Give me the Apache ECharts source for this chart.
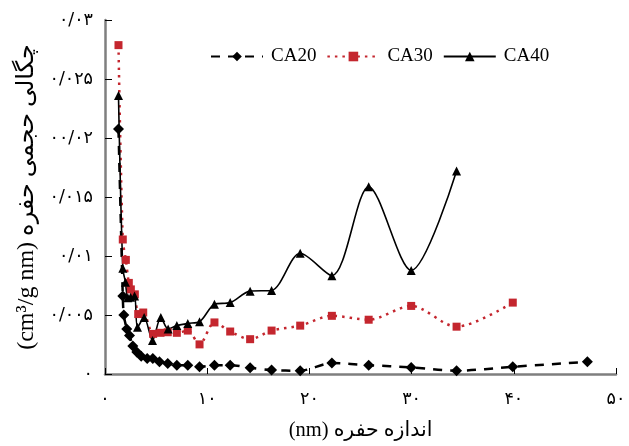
<!DOCTYPE html>
<html>
<head>
<meta charset="utf-8">
<script src="https://cdn.jsdelivr.net/npm/echarts@6/dist/echarts.min.js"></script>
<style>
html,body{margin:0;padding:0;background:#fff;}
#chart{width:629px;height:446px;}
</style>
</head>
<body>
<div id="chart"></div>
<script>
// ---- data (pore size nm, pore volume density cm3/g nm) ----
const ca20X = [1.32, 1.74, 1.84, 2.13, 2.40, 2.72, 3.11, 3.54, 4.13, 4.68, 5.33, 6.14, 7.03, 8.10, 9.25, 10.71, 12.25, 14.20, 16.30, 19.10, 22.20, 25.80, 29.96, 34.40, 39.90, 47.20];
const ca20Y = [0.02076, 0.00660, 0.00500, 0.00382, 0.00326, 0.00237, 0.00186, 0.00151, 0.00131, 0.00131, 0.00103, 0.00089, 0.00075, 0.00075, 0.00061, 0.00075, 0.00075, 0.00053, 0.00033, 0.00028, 0.00093, 0.00075, 0.00056, 0.00028, 0.00061, 0.00103];

const ca30X = [1.32, 1.74, 2.04, 2.33, 2.53, 2.92, 3.25, 3.74, 4.71, 5.43, 6.14, 7.03, 8.10, 9.25, 10.71, 12.25, 14.20, 16.30, 19.10, 22.20, 25.80, 29.96, 34.40, 39.90];
const ca30Y = [0.02787, 0.01140, 0.00967, 0.00772, 0.00717, 0.00675, 0.00508, 0.00521, 0.00340, 0.00349, 0.00354, 0.00349, 0.00368, 0.00251, 0.00437, 0.00360, 0.00295, 0.00368, 0.00410, 0.00493, 0.00460, 0.00577, 0.00401, 0.00605];

const ca40X = [1.32, 1.74, 2.00, 2.23, 2.50, 2.89, 3.18, 3.83, 4.65, 5.46, 6.18, 7.03, 8.10, 9.25, 10.71, 12.25, 14.20, 16.30, 19.10, 22.20, 25.80, 29.96, 34.40];
const ca40Y = [0.02360, 0.00897, 0.00778, 0.00646, 0.00650, 0.00660, 0.00396, 0.00479, 0.00284, 0.00479, 0.00382, 0.00410, 0.00429, 0.00443, 0.00591, 0.00605, 0.00702, 0.00708, 0.01023, 0.00833, 0.01586, 0.00878, 0.01720];

const seriesNames = ['CA20', 'CA30', 'CA40'];
const xTickLabels = ['۰', '۱۰', '۲۰', '۳۰', '۴۰', '۵۰'];
const yTickLabels = ['۰', '۰/۰۰۵', '۰/۰۱', '۰/۰۱۵', '۰۰/۰۲', '۰/۰۲۵', '۰/۰۳'];
const xTitle = '(nm) اندازه حفره';
const yTitle = '(cm³/g nm) چگالی حجمی حفره';

function pairs(xs, ys) { return xs.map((x, i) => [x, ys[i]]); }

const FONT = "'Liberation Serif', 'DejaVu Sans', serif";
const DIGITS = "'DejaVu Sans', sans-serif";
const RED = '#c4262e';

const chart = echarts.init(document.getElementById('chart'), null, {renderer: 'canvas'});
chart.setOption({
  animation: false,
  backgroundColor: '#fff',
  grid: {left: 105, top: 20, width: 511, height: 359, containLabel: false},
  legend: {
    left: 205, top: 42,
    itemWidth: 52, itemHeight: 12, itemGap: 10,
    textStyle: {fontFamily: FONT, fontSize: 19, color: '#000', padding: [0, 0, 0, 3]},
    data: seriesNames
  },
  xAxis: {
    type: 'value', min: 0, max: 50, interval: 10,
    name: xTitle, nameLocation: 'middle', nameGap: 46,
    nameTextStyle: {fontFamily: FONT, fontSize: 20.5, color: '#000'},
    axisLine: {show: true, lineStyle: {color: '#7f7f7f', width: 2.5}},
    axisTick: {show: true, inside: true, length: 6, lineStyle: {color: '#000', width: 1}},
    axisLabel: {
      margin: 16, fontFamily: DIGITS, fontSize: 17.5, color: '#000',
      formatter: v => xTickLabels[Math.round(v / 10)]
    },
    splitLine: {show: false}
  },
  yAxis: {
    type: 'value', min: 0, max: 0.03, interval: 0.005,
    name: yTitle, nameLocation: 'middle', nameGap: 66,
    nameTextStyle: {fontFamily: FONT, fontSize: 24, color: '#000'},
    axisLine: {show: true, lineStyle: {color: '#7f7f7f', width: 2.5}},
    axisTick: {show: true, inside: true, length: 7, lineStyle: {color: '#000', width: 1}},
    axisLabel: {
      margin: 12, fontFamily: DIGITS, fontSize: 17.5, color: '#000',
      formatter: v => yTickLabels[Math.round(v / 0.005)]
    },
    splitLine: {show: false}
  },
  series: [
    {
      name: seriesNames[0], type: 'line', data: pairs(ca20X, ca20Y),
      smooth: 0.3, symbol: 'diamond', symbolSize: 11,
      itemStyle: {color: '#000'},
      lineStyle: {color: '#000', width: 2.5, type: [9, 8]}
    },
    {
      name: seriesNames[1], type: 'line', data: pairs(ca30X, ca30Y),
      smooth: 0.3, symbol: 'rect', symbolSize: 8,
      itemStyle: {color: RED},
      lineStyle: {color: RED, width: 2.5, type: [2.5, 5]}
    },
    {
      name: seriesNames[2], type: 'line', data: pairs(ca40X, ca40Y),
      smooth: 0.3, symbol: 'triangle', symbolSize: 9,
      itemStyle: {color: '#000'},
      lineStyle: {color: '#000', width: 1.6, type: 'solid'}
    }
  ]
});
</script>
</body>
</html>
